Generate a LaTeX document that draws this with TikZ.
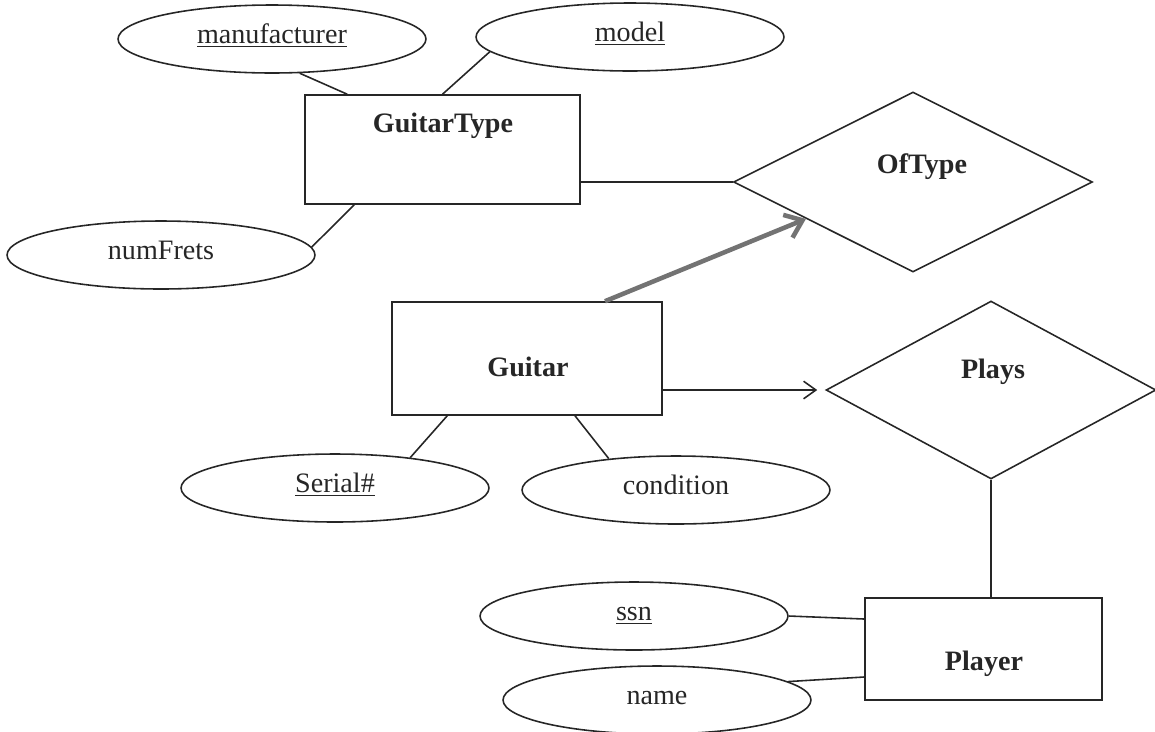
\documentclass[tikz,border=0pt]{standalone}
\usepackage{fontspec}
\setmainfont{Liberation Serif}
\usetikzlibrary{shapes.geometric,arrows.meta}

\begin{document}
\begin{tikzpicture}[x=0.02cm, y=-0.02cm, line width=0.9pt,
    ent/.style={draw=black!85, rectangle, inner sep=0pt},
    rel/.style={draw=black!85, diamond, inner sep=0pt},
    attr/.style={draw=black!85, ellipse, minimum width=6.16cm, minimum height=1.36cm,
        inner sep=0pt, text=black!85, text height=1.5ex, text depth=.3ex,
        font=\fontsize{16}{19}\selectfont},
    lbl/.style={text=black!85, font=\bfseries\fontsize{16}{19}\selectfont},
    isa/.style={draw=black!55, line width=2.6pt, -{Straight Barb[length=9pt,width=14pt]}},
    many/.style={-{Straight Barb[length=7pt,width=10pt]}, shorten >=0.16cm}]
    \useasboundingbox (0,0) rectangle (1155,731);

    % ENTITATS
    \node[ent, minimum width=5.5cm, minimum height=2.18cm] (gtype) at (442.5,149.5) {};
    \node[ent, minimum width=5.4cm, minimum height=2.26cm] (guitar) at (527,358.5) {};
    \node[ent, minimum width=4.74cm, minimum height=2.04cm] (player) at (983.5,649) {};
    \node[lbl] (gtypeL) at (443,126) {GuitarType};
    \node[lbl] (guitarL) at (528,367) {Guitar};
    \node[lbl] (playerL) at (984,664) {Player};

    % RELACIONS
    \node[rel, minimum width=7.18cm, minimum height=3.6cm] (oftype) at (913,182) {};
    \node[rel, minimum width=6.6cm, minimum height=3.56cm] (plays) at (991,390) {};
    \node[lbl] (oftypeL) at (922,167) {OfType};
    \node[lbl] (playsL) at (993,372) {Plays};

    % ATRIBUTS
    \node[attr] (mfr) at (272,39) {\underline{manufacturer}};
    \node[attr] (model) at (630,37) {\underline{model}};
    \node[attr] (frets) at (161,255) {numFrets};
    \node[attr] (serial) at (335,488) {\underline{Serial\#}};
    \node[attr] (cond) at (676,490) {condition};
    \node[attr] (ssn) at (634,616) {\underline{ssn}};
    \node[attr] (name) at (657,700) {name};

    % CONNEXIONS
    \draw[black!85] (mfr.-51) -- ([xshift=0.86cm]gtype.north west);
    \draw[black!85] (model.186) -- (gtype.north);
    \draw[black!85] (frets.3) -- ([xshift=1cm]gtype.south west);
    \draw[black!85] (gtype.east |- oftype.west) -- (oftype.west);
    \draw[isa] ([xshift=1.56cm]guitar.north) -- (oftype.199);
    \draw[black!85, many] (guitar.east |- plays.west) -- (plays.west);
    \draw[black!85] (serial.22) -- ([xshift=1.12cm]guitar.south west);
    \draw[black!85] (cond.155) -- ([xshift=0.96cm]guitar.south);
    \draw[black!85] (plays.south) -- (plays.south |- player.north);
    \draw[black!85] (ssn.east) -- ([yshift=0.6cm]player.west);
    \draw[black!85] (name.8) -- ([yshift=-0.56cm]player.west);

\end{tikzpicture}
\end{document}
